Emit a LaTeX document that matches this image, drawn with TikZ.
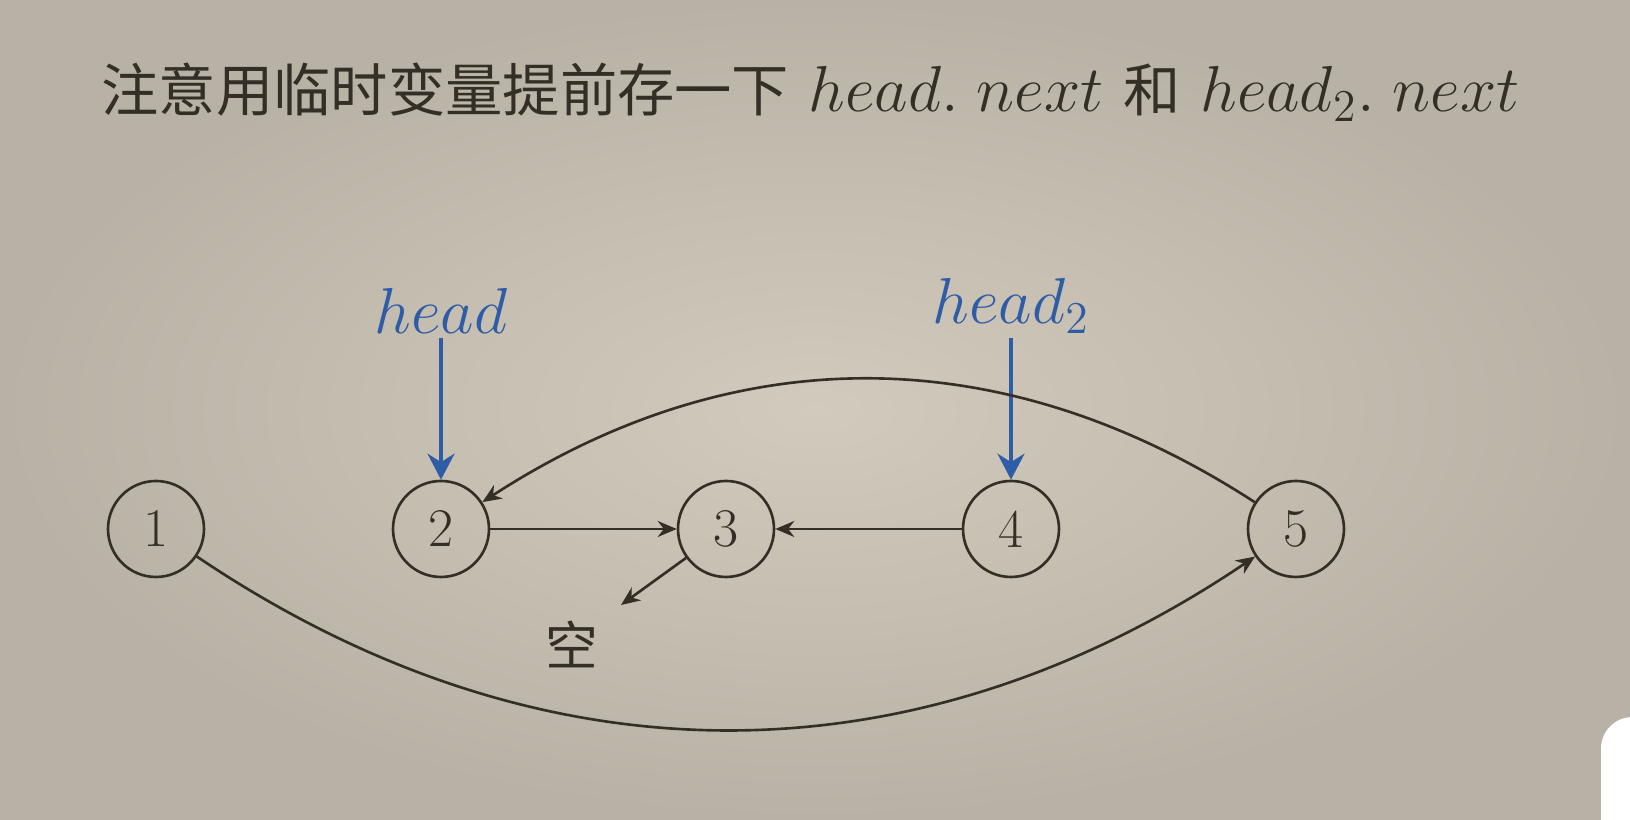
\RequirePackage{fix-cm}
\documentclass[tikz,border=0pt]{standalone}
\usepackage{fontspec}
\newfontfamily\cjk{Noto Sans CJK SC}
\usetikzlibrary{arrows.meta,positioning}
\definecolor{bgmid}{RGB}{210,202,188}
\definecolor{bgout}{RGB}{184,178,166}
\definecolor{ink}{RGB}{52,47,38}
\definecolor{ptrblue}{RGB}{46,92,166}
\tikzstyle{listnode}=[circle,draw=ink,line width=0.75pt,text=ink,
                      inner sep=0pt,minimum size=9.6mm,
                      font=\fontsize{15.5}{18}\selectfont]
\tikzstyle{link}=[draw=ink,line width=0.75pt,
                  -{Stealth[length=1.9mm,width=1.6mm]}]
\tikzstyle{ptr}=[text=ptrblue,inner sep=1pt,font=\fontsize{18.5}{22}\selectfont]
\tikzstyle{ptrarrow}=[draw=ptrblue,line width=1pt,
                      -{Stealth[length=2.6mm,width=2.7mm]}]

\begin{document}
\begin{tikzpicture}
    \useasboundingbox (0,0) rectangle (16.3,8.2);
    \shade[inner color=bgmid,outer color=bgout] (0,0) rectangle (16.3,8.2);
    \fill[white,rounded corners=9pt] (16.01,-0.3) rectangle (16.7,1.03);
    % title
    \node (title) at (1.01,7.08) [anchor=base west,inner sep=0pt,text=ink,
        font=\fontsize{18.5}{22}\selectfont]
        {{\fontsize{16.3}{20}\cjk 注意用临时变量提前存一下} $head.\;next$
         {\fontsize{16.3}{20}\cjk 和} $head_2.\;next$};
    % list
    \node (n1) at ( 1.56, 2.91) [listnode]{1};
    \node (n2) at ( 4.41, 2.91) [listnode]{2};
    \node (n3) at ( 7.26, 2.91) [listnode]{3};
    \node (n4) at (10.11, 2.91) [listnode]{4};
    \node (n5) at (12.96, 2.91) [listnode]{5};
    \node (null) at (5.72, 1.76) [text=ink,font=\fontsize{15}{18}\cjk]{空};
    \coordinate (nullend) at (6.21, 2.15);
    \node (hd1) [ptr, above=1.42cm of n2]{$head$};
    \node (hd2) [ptr, above=1.42cm of n4]{$head_2$};
    \draw[ptrarrow] (hd1) -- (n2);
    \draw[ptrarrow] (hd2) -- (n4);
    \draw[link] (n2) -- (n3);
    \draw[link] (n4) -- (n3);
    \draw[link] (n3) -- (nullend);
    \draw[link] (n5) to[bend right=33] (n2);
    \draw[link] (n1) to[bend right=34] (n5);
\end{tikzpicture}
\end{document}
